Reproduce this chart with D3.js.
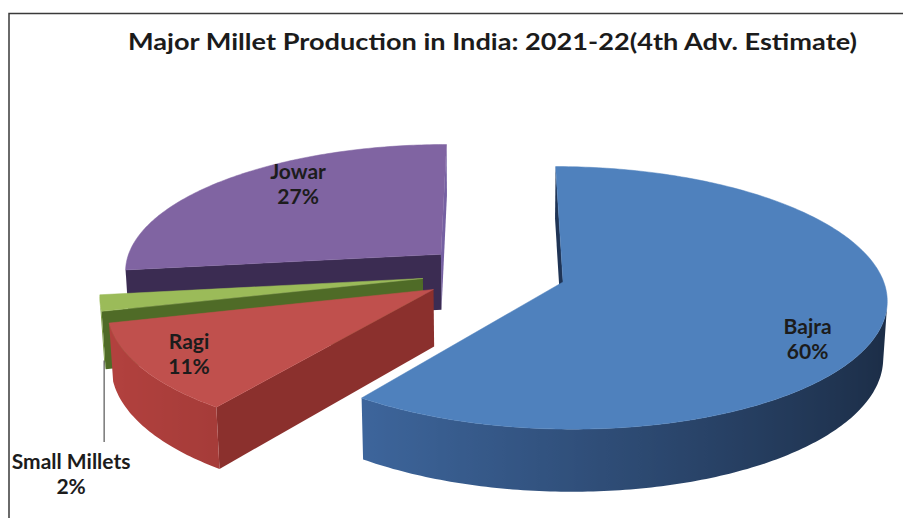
<!DOCTYPE html>
<html><head><meta charset="utf-8">
<script src="https://cdn.jsdelivr.net/npm/d3@7"></script>
<style>body{margin:0;background:#fff} svg{display:block}</style>
</head><body>
<svg id="c" width="903" height="518"></svg>
<script>
// ---- data ----
const categories = ["Bajra", "Ragi", "Small Millets", "Jowar"];
const shares = [60, 11, 2, 27];
const pctLabels = ["60%", "11%", "2%", "27%"];
const chartTitle = "Major Millet Production in India: 2021-22(4th Adv. Estimate)";

// ---- styles ----
const topFill   = ["#4F81BD", "#C0504D", "#9BBB59", "#8064A2"];
const rimLight  = ["#4674B2", "#B4423F", "#7C9C42", "#6A5290"];
const rimDark   = ["#1B2C45", "#6E2422", "#4A6324", "#2E2144"];
const startFace = ["#1F3455", "#8B302D", "#4F6B27", "#3B2C52"];
const endFace   = ["#1F3455", "#8B302D", "#4F6B27", "#7560A2"];
// label placement: [angle (deg, clockwise from 12 o'clock) from slice apex, radius fraction]
const labelPolar = [[120.9, 0.83], [236.2, 0.846], null, [320.3, 0.786]];

const svg = d3.select("#c");
const defs = svg.append("defs");

// frame
svg.append("path").attr("d", "M9,518 L9,13.5 L903,13.5")
  .attr("fill", "none").attr("stroke", "#3a3a3a").attr("stroke-width", 1.5);

// title
svg.append("text").attr("x", 128).attr("y", 50)
  .attr("textLength", 729).attr("lengthAdjust", "spacingAndGlyphs")
  .style("font-family", "Lato, 'Open Sans', sans-serif").style("font-weight", 700)
  .style("font-size", "23px").attr("fill", "#1b1b1b").text(chartTitle);

// ---- 3D projection ----
const cx = 494, cy = 273, R = 318, explode = 72, thick = 62;
const tilt = Math.asin(0.40), sa = Math.sin(tilt), ca = Math.cos(tilt);
const D = R * ca / 0.12;
const cam = [0, D * ca, D * sa];
function proj(u, v, h) {
  const yc = h * ca - v * sa, zc = h * sa + v * ca, s = D / (D - zc);
  return [cx + u * s, cy - yc * s];
}
function dist(u, v, h) { return Math.hypot(u - cam[0], v - cam[1], h - cam[2]); }

const arcs = d3.pie().sort(null).value(d => d)(shares);
const line = d3.line();
let gradId = 0;

const slices = arcs.map((a, i) => {
  const mid = (a.startAngle + a.endAngle) / 2;
  const ou = explode * Math.sin(mid), ov = -explode * Math.cos(mid);
  const n = Math.max(2, Math.ceil((a.endAngle - a.startAngle) / 0.015));
  const pts = d3.range(n + 1).map(k => {
    const t = a.startAngle + (a.endAngle - a.startAngle) * k / n;
    return { t, u: ou + R * Math.sin(t), v: ov - R * Math.cos(t) };
  });
  const faces = [];
  const rimC = d3.interpolateRgb(rimDark[i], rimLight[i]);
  // group visible rim segments into runs
  let run = null;
  const runs = [];
  for (let k = 0; k < n; k++) {
    const p = pts[k], p2 = pts[k + 1], tm = (p.t + p2.t) / 2;
    const mu = (p.u + p2.u) / 2, mv = (p.v + p2.v) / 2;
    const dot = Math.sin(tm) * (cam[0] - mu) - Math.cos(tm) * (cam[1] - mv);
    if (dot > 0) {
      if (!run) { run = { idx: [k] }; runs.push(run); }
      run.idx.push(k + 1);
    } else run = null;
  }
  runs.forEach(r => {
    const ps = r.idx.map(k => pts[k]);
    const topP = ps.map(p => proj(p.u, p.v, 0));
    const botP = ps.map(p => proj(p.u, p.v, -thick)).reverse();
    const xs = topP.map(p => p[0]);
    const x0 = d3.min(xs), x1 = d3.max(xs);
    const id = "rim" + (gradId++);
    const grad = defs.append("linearGradient").attr("id", id)
      .attr("gradientUnits", "userSpaceOnUse").attr("x1", x0).attr("x2", x1).attr("y1", 0).attr("y2", 0);
    const stops = ps.map((p, j) => ({ off: (topP[j][0] - x0) / Math.max(1e-6, x1 - x0), col: rimC((1 - Math.sin(p.t)) / 2) }))
      .sort((s1, s2) => s1.off - s2.off);
    grad.selectAll("stop").data(stops).join("stop").attr("offset", s => s.off).attr("stop-color", s => s.col);
    const mu = d3.mean(ps, p => p.u), mv = d3.mean(ps, p => p.v);
    faces.push({ poly: topP.concat(botP), depth: dist(mu, mv, -thick / 2), fill: `url(#${id})` });
  });
  // radial faces
  const radial = (rp, nu, nv, fill) => {
    const mu = (ou + rp.u) / 2, mv = (ov + rp.v) / 2;
    const dot = nu * (cam[0] - mu) + nv * (cam[1] - mv);
    if (dot > 0) faces.push({
      poly: [proj(ou, ov, 0), proj(rp.u, rp.v, 0), proj(rp.u, rp.v, -thick), proj(ou, ov, -thick)],
      depth: dist(mu, mv, -thick / 2), fill
    });
  };
  radial(pts[0], -Math.cos(a.startAngle), -Math.sin(a.startAngle), startFace[i]);
  radial(pts[n], Math.cos(a.endAngle), Math.sin(a.endAngle), endFace[i]);
  faces.sort((x, y) => y.depth - x.depth);
  const top = [proj(ou, ov, 0), ...pts.map(p => proj(p.u, p.v, 0))];
  return { i, ou, ov, mid, pts, faces, top, depth: dist(ou, ov, 0) };
});

const gPie = svg.append("g");
slices.slice().sort((x, y) => y.depth - x.depth).forEach(sl => {
  const g = gPie.append("g");
  g.selectAll("path.side").data(sl.faces).join("path").attr("class", "side")
    .attr("d", f => line(f.poly) + "Z").attr("fill", f => f.fill)
    .attr("stroke", "none");
  g.append("path").attr("d", line(sl.top) + "Z").attr("fill", topFill[sl.i])
    .attr("stroke", topFill[sl.i]).attr("stroke-width", 0.5);
});

// ---- labels ----
const lblFont = "Lato, 'Open Sans', sans-serif";
function twoLine(x, yMid, a, b) {
  const t = svg.append("text").attr("text-anchor", "middle")
    .style("font-family", lblFont).style("font-weight", 700).style("font-size", "21px")
    .attr("fill", "#1c1c1c");
  t.append("tspan").attr("x", x).attr("y", yMid - 6).text(a);
  t.append("tspan").attr("x", x).attr("y", yMid + 19).text(b);
}
slices.forEach(sl => {
  const lp = labelPolar[sl.i];
  if (!lp) return;
  const th = lp[0] * Math.PI / 180, r = lp[1] * R;
  const [x, y] = proj(sl.ou + r * Math.sin(th), sl.ov - r * Math.cos(th), 0);
  twoLine(x, y, categories[sl.i], pctLabels[sl.i]);
});
// Small Millets: leader line from outer side of its slice
const sm = slices[2];
const rimPt = proj(sm.ou + R * Math.sin(sm.mid), sm.ov - R * Math.cos(sm.mid), -thick);
svg.append("line").attr("x1", rimPt[0]).attr("y1", rimPt[1]).attr("x2", rimPt[0]).attr("y2", 442)
  .attr("stroke", "#555").attr("stroke-width", 1.2);
twoLine(rimPt[0] - 33, 475, categories[2], pctLabels[2]);
</script>
</body></html>
